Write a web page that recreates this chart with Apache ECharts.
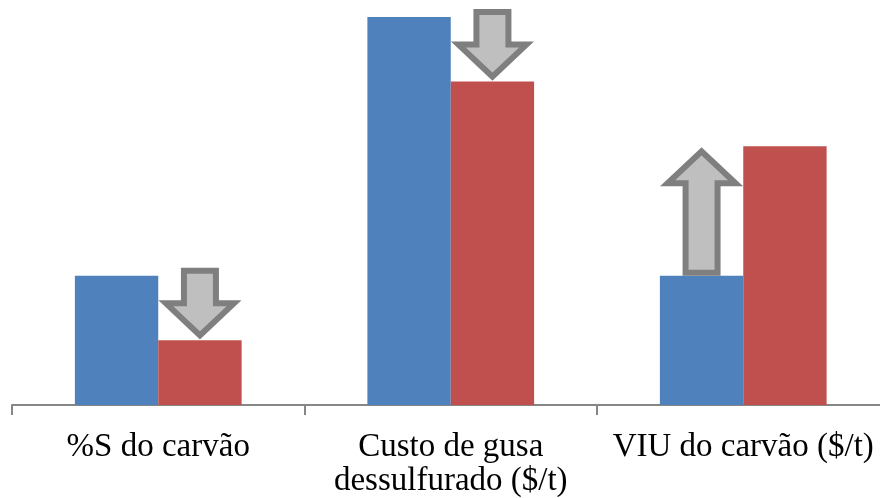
<!DOCTYPE html>
<html>
<head>
<meta charset="utf-8">
<script src="https://cdn.jsdelivr.net/npm/echarts@6/dist/echarts.min.js"></script>
<style>
  html, body { margin: 0; padding: 0; background: #ffffff; overflow: hidden; }
  /* the category axis runs slightly past the right edge of the view */
  #chart { width: 890px; height: 498px; }
</style>
</head>
<body>
<div id="chart"></div>
<script>
// Categories and the two scenarios compared (before / after)
const categories = ['%S do carvão', 'Custo de gusa\ndessulfurado ($/t)', 'VIU do carvão ($/t)'];
const before = [2, 6, 2];
const after = [1, 5, 4];

// Arrows showing the direction of change: [category index, from value, to value]
const changes = categories.map((_, i) => [i, before[i], after[i]]);

const GAP = 0.43;          // bar category gap
const BLUE = '#4f81bd';
const RED = '#c0504d';

function renderArrow(params, api) {
  const idx = api.value(0);
  const from = api.value(1);
  const to = api.value(2);
  const band = api.size([1, 0])[0];
  const barW = band * (1 - GAP) / 2;
  const center = api.coord([idx, 0])[0];
  const pFrom = api.coord([idx, from])[1];
  const pTo = api.coord([idx, to])[1];
  const down = to < from;
  // down arrows sit over the second bar, up arrows over the first
  const cx = down ? center + barW / 2 : center - barW / 2;
  const stroke = 6, half = stroke / 2;
  const sw = 16, hw = 34, headH = 40;
  let pts;
  if (down) {
    const top = pFrom - 8 + half;
    const tip = pTo - 5;
    const headY = pTo - headH + half;
    pts = [[cx - sw, top], [cx + sw, top], [cx + sw, headY], [cx + hw, headY],
           [cx, tip], [cx - hw, headY], [cx - sw, headY]];
  } else {
    const bottom = pFrom - half;
    const tip = pTo + 5;
    const headY = pTo + headH - half;
    pts = [[cx - sw, bottom], [cx + sw, bottom], [cx + sw, headY], [cx + hw, headY],
           [cx, tip], [cx - hw, headY], [cx - sw, headY]];
  }
  return {
    type: 'polygon',
    shape: { points: pts },
    style: { fill: '#bfbfbf', stroke: '#7f7f7f', lineWidth: stroke, lineJoin: 'miter' },
    z2: 10
  };
}

const chart = echarts.init(document.getElementById('chart'), null, { renderer: 'canvas' });
chart.setOption({
  animation: false,
  backgroundColor: '#ffffff',
  grid: { left: 12, right: 0.5, top: 4, bottom: 93, containLabel: false },
  xAxis: {
    type: 'category',
    data: categories,
    axisLine: { lineStyle: { color: '#868686', width: 2 } },
    axisTick: { show: true, length: 10, lineStyle: { color: '#868686', width: 2 } },
    axisLabel: {
      interval: 0,
      margin: 25,
      color: '#000000',
      fontFamily: '"Liberation Serif", "Times New Roman", serif',
      fontSize: 33,
      lineHeight: 34
    }
  },
  yAxis: {
    type: 'value',
    min: 0,
    max: 6.2,
    show: false,
    splitLine: { show: false }
  },
  series: [
    {
      type: 'bar', data: before, barGap: '0%', barCategoryGap: (GAP * 100) + '%',
      itemStyle: { color: BLUE }
    },
    {
      type: 'bar', data: after, barGap: '0%', barCategoryGap: (GAP * 100) + '%',
      itemStyle: { color: RED }
    },
    {
      type: 'custom', data: changes, renderItem: renderArrow, silent: true, clip: false,
      encode: { x: 0, y: [1, 2] }, z: 5
    }
  ]
});
</script>
</body>
</html>
